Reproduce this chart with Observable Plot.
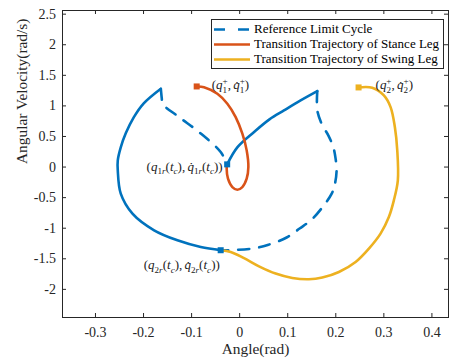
<!DOCTYPE html>
<html><head><meta charset="utf-8">
<script src="https://cdn.jsdelivr.net/npm/d3@7"></script>
<script src="https://cdn.jsdelivr.net/npm/@observablehq/plot@0.6"></script>
<style>
body{margin:0;background:#fff;}
#wrap{position:relative;width:450px;height:360px;font-family:"Liberation Serif","Times New Roman",serif;}
#wrap svg text{font-family:"Liberation Serif","Times New Roman",serif;}
#legend{position:absolute;left:211px;top:19px;width:233px;height:50px;border:1px solid #262626;background:#fff;box-sizing:border-box;}
.row{position:absolute;left:0;height:15px;display:flex;align-items:center;font-size:13px;white-space:nowrap;color:#000;}
.row svg{margin-left:1px;margin-right:4px;}
</style></head><body><div id="wrap"></div>
<script>
// ---- data ----
const xTicks = [-0.3, -0.2, -0.1, 0, 0.1, 0.2, 0.3, 0.4];
const yTicks = [-2, -1.5, -1, -0.5, 0, 0.5, 1, 1.5, 2, 2.5];
const xLabel = "Angle(rad)";
const yLabel = "Angular Velocity(rad/s)";
const legendLabels = ["Reference Limit Cycle", "Transition Trajectory of Stance Leg", "Transition Trajectory of Swing Leg"];

// reference limit cycle, solid parts
const cycleSolidLeft = [[-0.164,1.28],[-0.1996,1.041],[-0.2204,0.812],[-0.237,0.551],[-0.2474,0.322],[-0.2536,0.109],[-0.2536,-0.054],[-0.2474,-0.435],[-0.223,-0.762],[-0.178,-1.034],[-0.1295,-1.198],[-0.081,-1.307],[-0.0395,-1.358]];
const cycleSolidRight = [[-0.026,0.044],[-0.0045,0.325],[0.0295,0.57],[0.062,0.78],[0.0922,0.926],[0.1268,1.09],[0.1615,1.242]];
// reference limit cycle, dashed parts
const cycleDashLeft = [[-0.164,1.28],[-0.162,1.12],[-0.1607,1.036],[-0.126,0.817],[-0.0846,0.572],[-0.0395,0.245],[-0.026,0.044]];
const cycleDashRight = [[0.1615,1.242],[0.1615,0.926],[0.1705,0.709],[0.1844,0.518],[0.1948,0.327],[0.1996,0.137],[0.2017,-0.054],[0.1975,-0.30],[0.1915,-0.435],[0.1753,-0.626],[0.1497,-0.86],[0.1247,-1.005],[0.0977,-1.152],[0.06,-1.27],[0.0291,-1.33],[-0.0187,-1.358],[-0.0395,-1.36]];
// transition trajectories
const stanceLeg = [[-0.0894,1.318],[-0.0742,1.307],[-0.0464,1.199],[-0.0256,1.036],[-0.0083,0.817],[0.0056,0.546],[0.0146,0.273],[0.0181,0.0],[0.0146,-0.19],[0.0056,-0.327],[-0.0048,-0.37],[-0.0152,-0.327],[-0.0243,-0.19],[-0.027,-0.027],[-0.026,0.044]];
const swingLeg = [[0.2474,1.302],[0.2758,1.297],[0.30,1.171],[0.314,0.98],[0.3229,0.654],[0.3279,0.273],[0.3291,-0.217],[0.3208,-0.544],[0.3104,-0.817],[0.2931,-1.088],[0.2689,-1.333],[0.2412,-1.552],[0.2065,-1.716],[0.1719,-1.807],[0.1441,-1.835],[0.1095,-1.814],[0.0748,-1.742],[0.0402,-1.623],[0.008,-1.485],[-0.0187,-1.389],[-0.0395,-1.36]];
// markers
const stanceStart = [[-0.0894,1.318]];
const swingStart = [[0.2474,1.302]];
const cycleMarks = [[-0.026,0.044],[-0.0395,-1.36]];
// annotations (markup: _ subscript, ^ superscript)
const labelsStart = [
  {x: -0.0582, y: 1.34, t: "(q_1^+, q\u0307_1^+)"},
  {x: 0.2827, y: 1.34, t: "(q_2^+, q\u0307_2^+)"},
  {x: -0.1996, y: -1.606, t: "(q_{2r}(t_c), q\u0307_{2r}(t_c))"}
];
const labelsEnd = [
  {x: -0.0353, y: 0.01, t: "(q_{1r}(t_c), q\u0307_{1r}(t_c))"}
];

// ---- style ----
const BLUE = "#0072BD", ORANGE = "#D95319", YELLOW = "#EDB120", AX = "#262626";
const LW = 2.6, DASH = "11,10";
const W = 450, H = 360, mL = 62, mR = 2, mT = 10, mB = 43;
const pW = W - mL - mR, pH = H - mT - mB, TL = 4;
const FONT = "Liberation Serif";
const px = d => d[0], py = d => d[1];

const chart = Plot.plot({
  width: W, height: H, marginLeft: mL, marginRight: mR, marginTop: mT, marginBottom: mB,
  style: {fontFamily: FONT, background: "transparent", color: AX},
  x: {domain: [-0.3686, 0.4345]},
  y: {domain: [-2.46, 2.56]},
  marks: [
    Plot.axisX(xTicks, {tickSize: 0, tickPadding: 9.5, tickFormat: d => String(d), fontSize: 14, fontFamily: FONT, label: null}),
    Plot.axisY(yTicks, {tickSize: 0, tickPadding: 6.5, tickFormat: d => String(d), fontSize: 14, fontFamily: FONT, label: null}),
    Plot.tickX(xTicks, {x: d => d, insetTop: pH - TL, stroke: AX}),
    Plot.tickX(xTicks, {x: d => d, insetBottom: pH - TL, stroke: AX}),
    Plot.tickY(yTicks, {y: d => d, insetRight: pW - TL, stroke: AX}),
    Plot.tickY(yTicks, {y: d => d, insetLeft: pW - TL, stroke: AX}),
    Plot.text([xLabel], {text: d => d, frameAnchor: "bottom", lineAnchor: "top", dy: 25.3, fontSize: 15.4, fontFamily: FONT, fill: AX}),
    Plot.text([yLabel], {text: d => d, frameAnchor: "left", rotate: -90, dx: -40, fontSize: 15.4, fontFamily: FONT, fill: AX}),
    Plot.line(cycleDashLeft, {x: px, y: py, stroke: BLUE, strokeWidth: LW, strokeDasharray: DASH, curve: "catmull-rom"}),
    Plot.line(cycleDashRight, {x: px, y: py, stroke: BLUE, strokeWidth: LW, strokeDasharray: DASH, curve: "catmull-rom"}),
    Plot.line(cycleSolidLeft, {x: px, y: py, stroke: BLUE, strokeWidth: LW, curve: "catmull-rom"}),
    Plot.line(cycleSolidRight, {x: px, y: py, stroke: BLUE, strokeWidth: LW, curve: "catmull-rom"}),
    Plot.line(stanceLeg, {x: px, y: py, stroke: ORANGE, strokeWidth: LW, curve: "catmull-rom"}),
    Plot.line(swingLeg, {x: px, y: py, stroke: YELLOW, strokeWidth: LW, curve: "catmull-rom"}),
    Plot.dot(stanceStart, {x: px, y: py, symbol: "square", r: 3.4, fill: ORANGE}),
    Plot.dot(swingStart, {x: px, y: py, symbol: "square", r: 3.4, fill: YELLOW}),
    Plot.dot(cycleMarks, {x: px, y: py, symbol: "square", r: 3.4, fill: BLUE}),
    Plot.text(labelsStart, {x: "x", y: "y", text: "t", textAnchor: "start", fontSize: 13, fontFamily: FONT, fill: "#222"}),
    Plot.text(labelsEnd, {x: "x", y: "y", text: "t", textAnchor: "end", fontSize: 13, fontFamily: FONT, fill: "#222"}),
    Plot.frame({stroke: AX, strokeWidth: 1})
  ]
});
const wrap = document.getElementById("wrap");
wrap.appendChild(chart);

// ---- math-like label rendering with tspans ----
const NS = "http://www.w3.org/2000/svg";
const ctx = document.createElement("canvas").getContext("2d");
function isItalic(ch) { return /[a-z]/i.test(ch[0]); }
function graphemes(s) { const out = []; for (const c of s) { if (/[\u0300-\u036f]/.test(c) && out.length) out[out.length - 1] += c; else out.push(c); } return out; }
function runsOf(s) { const runs = []; for (const g of graphemes(s)) { const it = isItalic(g); if (runs.length && runs[runs.length - 1].it === it) runs[runs.length - 1].s += g; else runs.push({s: g, it}); } return runs; }
function measure(s, size) { let w = 0; for (const r of runsOf(s)) { ctx.font = `${r.it ? "italic " : ""}${size}px "${FONT}"`; w += ctx.measureText(r.s).width; } return w; }
function parse(s) {
  const out = []; let i = 0;
  const grab = () => { if (s[i] === "{") { const j = s.indexOf("}", i); const t = s.slice(i + 1, j); i = j + 1; return t; } const t = s[i]; i++; return t; };
  while (i < s.length) {
    const c = s[i];
    if (c === "_" || c === "^") { i++; out.push({t: grab(), role: c === "_" ? "sub" : "sup"}); }
    else { let t = c; i++; while (i < s.length && /[\u0300-\u036f]/.test(s[i])) { t += s[i]; i++; } out.push({t, role: "base"}); }
  }
  return out;
}
function renderMath(el, src, fs) {
  const toks = parse(src);
  while (el.firstChild) el.removeChild(el.firstChild);
  const SS = fs * 0.7, SUB = fs * 0.28, SUP = -fs * 0.4;
  let cur = 0, pdx = 0;
  const emit = (str, size, off, dx) => {
    runsOf(str).forEach((r, j) => {
      const t = document.createElementNS(NS, "tspan");
      t.textContent = r.s;
      if (r.it) t.setAttribute("font-style", "italic");
      t.setAttribute("font-size", size);
      if (j === 0) {
        const dy = off - cur; if (dy) t.setAttribute("dy", dy.toFixed(2)); cur = off;
        if (dx) t.setAttribute("dx", dx.toFixed(2));
      }
      el.appendChild(t);
    });
  };
  for (let k = 0; k < toks.length; k++) {
    const tk = toks[k];
    if (tk.role === "sub" && toks[k + 1] && toks[k + 1].role === "sup") {
      const sup = toks[k + 1];
      emit(tk.t, SS, SUB, pdx); pdx = 0;
      const w1 = measure(tk.t, SS);
      emit(sup.t, SS, SUP, -w1);
      const w2 = measure(sup.t, SS);
      pdx = Math.max(0, w1 - w2);
      k++;
    } else if (tk.role === "sub") { emit(tk.t, SS, SUB, pdx); pdx = 0; }
    else if (tk.role === "sup") { emit(tk.t, SS, SUP, pdx); pdx = 0; }
    else { emit(tk.t, fs, 0, pdx + (tk.t === " " ? -1 : 0)); pdx = 0; }
  }
}
const mathSources = new Set([...labelsStart, ...labelsEnd].map(d => d.t));
Array.from(chart.querySelectorAll("text"))
  .filter(el => mathSources.has(el.textContent))
  .forEach(el => renderMath(el, el.textContent, 13));

// ---- legend (overlay inside the axes) ----
const legend = document.createElement("div");
legend.id = "legend";
const legendStyles = [{c: BLUE, dash: DASH}, {c: ORANGE, dash: null}, {c: YELLOW, dash: null}];
legendLabels.forEach((lab, i) => {
  const row = document.createElement("div");
  row.className = "row";
  row.style.top = (1.5 + 15 * i) + "px";
  const s = d3.create("svg").attr("width", 37).attr("height", 15);
  s.append("line").attr("x1", 1).attr("x2", 37).attr("y1", 7.5).attr("y2", 7.5)
    .attr("stroke", legendStyles[i].c).attr("stroke-width", LW)
    .attr("stroke-dasharray", legendStyles[i].dash ? "11,13" : null);
  row.appendChild(s.node());
  const span = document.createElement("span");
  span.textContent = lab;
  row.appendChild(span);
  legend.appendChild(row);
});
wrap.appendChild(legend);
</script></body></html>
